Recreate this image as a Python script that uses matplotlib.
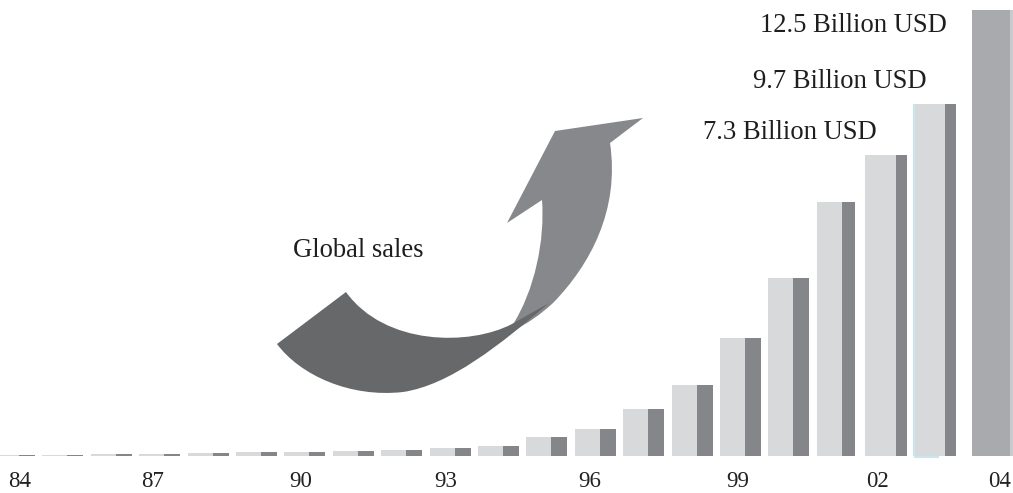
import matplotlib
matplotlib.use('Agg')
import matplotlib.pyplot as plt
from matplotlib.patches import PathPatch
from matplotlib.path import Path
import numpy as np

# ---------------- data ----------------
years = ['84', '85', '86', '87', '88', '89', '90', '91', '92', '93', '94',
         '95', '96', '97', '98', '99', '00', '01', '02', '03', '04']
# global sales, billion USD (04 = 12.5)
sales = [0.04, 0.04, 0.06, 0.07, 0.08, 0.11, 0.12, 0.14, 0.18, 0.22, 0.29,
         0.53, 0.76, 1.32, 1.99, 3.31, 4.99, 7.12, 8.44, 9.87, 12.5]
tick_years = ['84', '87', '90', '93', '96', '99', '02', '04']
label_years = ['02', '03', '04']
value_labels = ['7.3 Billion USD', '9.7 Billion USD', '12.5 Billion USD']
annotation_text = 'Global sales'

# ---------------- layout / style ----------------
W, H = 1013, 493
PX = 48.4            # pixels per year slot
X0 = 14              # pixel centre of first bar
BASE = 456           # baseline, pixels from top
YPX = 446 / 12.5     # pixels per billion
LIGHT = '#d8d9db'
DARK = '#85868a'
LAST = '#a9aaad'
SERIF = ['Liberation Serif', 'DejaVu Serif']

fig = plt.figure(figsize=(W / 100, H / 100), dpi=100)
fig.patch.set_facecolor('white')
ax = fig.add_axes([0, (H - BASE) / H, 1, BASE / H])
ax.set_xlim(-X0 / PX, (W - X0) / PX)
ax.set_ylim(0, BASE / YPX)
ax.patch.set_alpha(0)
for s in ax.spines.values():
    s.set_visible(False)
ax.set_yticks([])

n = len(years)
x = np.arange(n, dtype=float)
for i, (xi, h) in enumerate(zip(x, sales)):
    if i == n - 1:
        left = (972 - X0) / PX
        ax.bar(left, h, width=38 / PX, align='edge', color=LAST, linewidth=0)
        ax.bar(left + 38 / PX, h, width=4 / PX, align='edge', color='#c9cacc', linewidth=0)
        continue
    if i >= 18:
        lw, dw = 31, 11
    elif i == 17:
        lw, dw = 25, 13
    else:
        lw, dw = 25, 16
    left = xi - 20 / PX
    ax.bar(left, h, width=lw / PX, align='edge', color=LIGHT, linewidth=0)
    ax.bar(left + lw / PX, h, width=dw / PX, align='edge', color=DARK, linewidth=0)
    if i == 19:
        ax.vlines(left, 0, h, color='#c6e6f0', linewidth=1.5)
        ax.hlines(-0.03, left, left + 25 / PX, color='#c6e6f0', linewidth=1.5, clip_on=False)

# tick labels
tick_nudge = {'84': 6, '87': -7, '90': -4, '93': -4, '96': -5, '99': -2, '02': -8, '04': 0}
tick_pos = []
for t in tick_years:
    i = years.index(t)
    if i == n - 1:
        tick_pos.append((1000 - X0) / PX)
    else:
        tick_pos.append(x[i] + tick_nudge[t] / PX)
ax.set_xticks(tick_pos)
ax.set_xticklabels(tick_years, fontfamily=SERIF, fontsize=16.5, color='#222222')
ax.tick_params(axis='x', length=0, pad=11)

# value labels
offsets = {'02': (-8, 16), '03': (-7, 16), '04': (-45, -22)}
for yr, lab in zip(label_years, value_labels):
    i = years.index(yr)
    xb = x[i] if i < n - 1 else (992 - X0) / PX
    ax.annotate(lab, xy=(xb, sales[i]), xytext=offsets[yr], textcoords='offset pixels',
                ha='right', va='baseline', fontfamily=SERIF, fontsize=19.2, color='#1e1e1e')

# ---------------- arrow overlay (pixel coords) ----------------
ov = fig.add_axes([0, 0, 1, 1])
ov.set_xlim(0, W)
ov.set_ylim(H, 0)
ov.axis('off')
ov.patch.set_alpha(0)

M, L, C = Path.MOVETO, Path.LINETO, Path.CURVE4

# light shaft with head
shaft_verts = [(512, 326),
               (535, 290), (545, 240), (542, 200),
               (507, 223), (555, 131), (643, 118), (610, 143),
               (620, 210), (590, 265), (553, 303),
               (540, 315), (527, 324), (512, 331),
               (512, 326)]
shaft_codes = [M, C, C, C, L, L, L, L, C, C, C, C, C, C, Path.CLOSEPOLY]
ov.add_patch(PathPatch(Path(shaft_verts, shaft_codes), facecolor='#87888c', edgecolor='none'))

# dark tail
tail_verts = [(277, 344), (346, 292),
              (385, 346), (470, 346), (512, 324),
              (549, 303),
              (500, 345), (450, 385), (403, 392),
              (350, 398), (300, 375), (277, 344),
              (277, 344)]
tail_codes = [M, L, C, C, C, L, C, C, C, C, C, C, Path.CLOSEPOLY]
ov.add_patch(PathPatch(Path(tail_verts, tail_codes), facecolor='#67686a', edgecolor='none'))

ov.text(293, 257, annotation_text, ha='left', va='baseline', fontfamily=SERIF,
        fontsize=19.2, color='#1e1e1e')

fig.savefig('out.png', dpi=100, facecolor='white')
